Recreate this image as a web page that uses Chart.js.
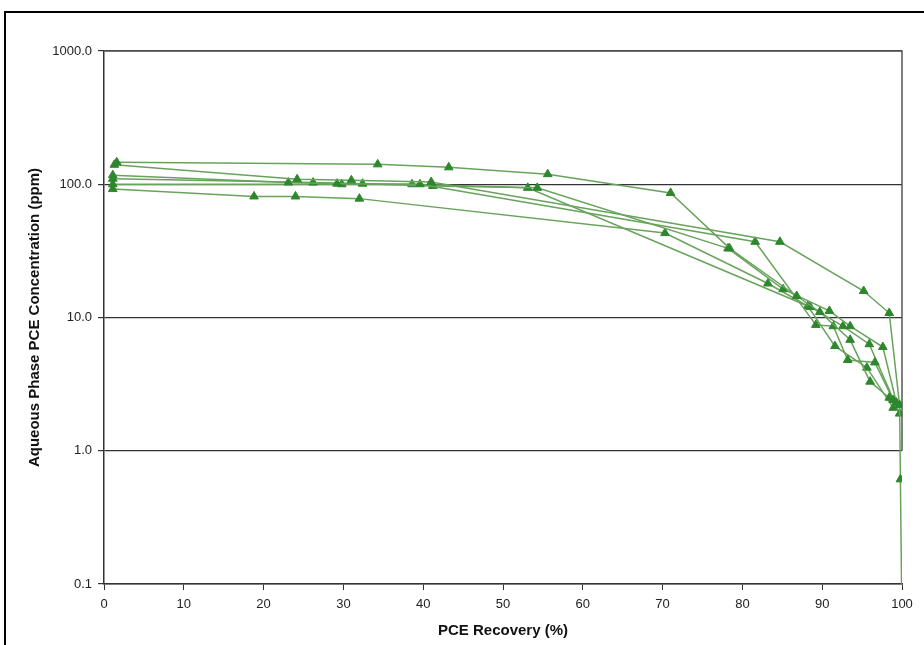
<!DOCTYPE html>
<html>
<head>
<meta charset="utf-8">
<script src="https://cdn.jsdelivr.net/npm/chart.js@4/dist/chart.umd.min.js"></script>
<style>
html,body{margin:0;padding:0;background:#fff;overflow:hidden;}
#wrap{position:absolute;left:0;top:0;width:924px;height:645px;}
#frame{position:absolute;left:4px;top:11px;width:1000px;height:1000px;border-top:2px solid #000;border-left:2px solid #000;pointer-events:none;}
</style>
</head>
<body>
<div id="wrap"><canvas id="c" width="924" height="645"></canvas></div>
<div id="frame"></div>
<script>
// Recovery (%) and concentration (ppm) for each run
const run1X = [1.6, 34.3, 43.2, 55.6, 71.0, 78.4, 86.8, 89.7, 93.5, 96.0, 98.4];
const run1Y = [146, 141, 134, 119, 86, 33, 14.5, 11.0, 6.8, 3.3, 2.5];
const run2X = [1.3, 24.2, 31.0, 41.0, 84.7, 95.2, 98.4, 99.7, 99.8, 100];
const run2Y = [140, 109, 107, 104, 37, 15.8, 10.8, 2.2, 0.61, 0.05];
const run3X = [1.1, 23.1, 29.2, 39.6, 81.6, 89.2, 91.4, 93.2, 96.6, 98.9];
const run3Y = [117, 103, 101, 100, 37, 8.8, 8.6, 4.8, 4.6, 2.4];
const run4X = [1.1, 26.2, 32.4, 41.2, 54.3, 78.2, 85.1, 90.9, 93.5, 97.6, 99.3];
const run4Y = [110, 103, 101, 97, 94, 33, 16.3, 11.2, 8.6, 6.0, 2.3];
const run5X = [1.1, 29.8, 38.6, 53.1, 88.5, 92.6, 95.9, 99.7];
const run5Y = [100, 100, 100, 94, 12.0, 8.6, 6.3, 1.9];
const run6X = [1.1, 18.8, 24.0, 32.0, 70.3, 83.2, 88.2, 91.6, 95.6, 98.9];
const run6Y = [92, 81, 81, 78, 43, 18, 12.2, 6.1, 4.2, 2.1];

const xTicks = [0, 10, 20, 30, 40, 50, 60, 70, 80, 90, 100];
const yTicks = [0.1, 1, 10, 100, 1000];
const yTickLabels = ['0.1', '1.0', '10.0', '100.0', '1000.0'];

const runs = [[run1X, run1Y], [run2X, run2Y], [run3X, run3Y], [run4X, run4Y], [run5X, run5Y], [run6X, run6Y]];

const datasets = runs.map(([xs, ys], i) => ({
  label: 'Run ' + (i + 1),
  data: xs.map((x, j) => ({x: x, y: ys[j]})),
  showLine: true,
  borderColor: '#68a35c',
  borderWidth: 1.5,
  backgroundColor: '#2d872d',
  pointBackgroundColor: '#2d872d',
  pointBorderColor: '#2d872d',
  pointStyle: 'triangle',
  pointRadius: ctx => (ctx.raw && ctx.raw.y < 0.1) ? 0 : 5,
  pointBorderWidth: 1,
  tension: 0
}));

const framePlugin = {
  id: 'plotFrame',
  afterDatasetsDraw(chart) {
    const {ctx, chartArea: a} = chart;
    ctx.save();
    ctx.strokeStyle = '#555';
    ctx.lineWidth = 1.5;
    ctx.beginPath();
    ctx.moveTo(a.left, a.top);
    ctx.lineTo(a.right, a.top);
    ctx.lineTo(a.right, chart.scales.y.getPixelForValue(1));
    ctx.stroke();
    ctx.restore();
  }
};

const FONT = "'Liberation Sans', Arial, sans-serif";

new Chart(document.getElementById('c'), {
  type: 'scatter',
  data: {datasets},
  options: {
    responsive: false,
    animation: false,
    layout: {padding: {left: 0, top: 51, right: 22, bottom: 0}},
    plugins: {legend: {display: false}, tooltip: {enabled: false}},
    scales: {
      x: {
        type: 'linear',
        min: 0, max: 100,
        afterBuildTicks: s => { s.ticks = xTicks.map(v => ({value: v})); },
        afterFit: s => { s.height = 61; },
        grid: {drawOnChartArea: false, drawTicks: true, tickLength: 6, color: '#333', lineWidth: 1},
        border: {display: true, color: '#333', width: 1.5},
        ticks: {color: '#222', font: {family: FONT, size: 13}, padding: 7, maxRotation: 0, autoSkip: false},
        title: {display: true, text: 'PCE Recovery (%)', color: '#111', font: {family: FONT, size: 15, weight: 'bold'}, padding: {top: 0, bottom: 5}}
      },
      y: {
        type: 'logarithmic',
        min: 0.1, max: 1000,
        afterBuildTicks: s => { s.ticks = yTicks.map(v => ({value: v})); },
        afterFit: s => { s.width = 104; },
        grid: {drawOnChartArea: true, drawTicks: true, tickLength: 6, color: '#333', lineWidth: 1.2},
        border: {display: true, color: '#333', width: 1.5},
        ticks: {
          color: '#222', font: {family: FONT, size: 13}, padding: 6, autoSkip: false,
          callback: (v) => { const k = yTicks.indexOf(v); return k >= 0 ? yTickLabels[k] : ''; }
        },
        title: {display: true, text: 'Aqueous Phase PCE Concentration (ppm)', color: '#111', font: {family: FONT, size: 15, weight: 'bold'}, padding: {top: 26, bottom: 0}}
      }
    }
  },
  plugins: [framePlugin]
});
</script>
</body>
</html>
